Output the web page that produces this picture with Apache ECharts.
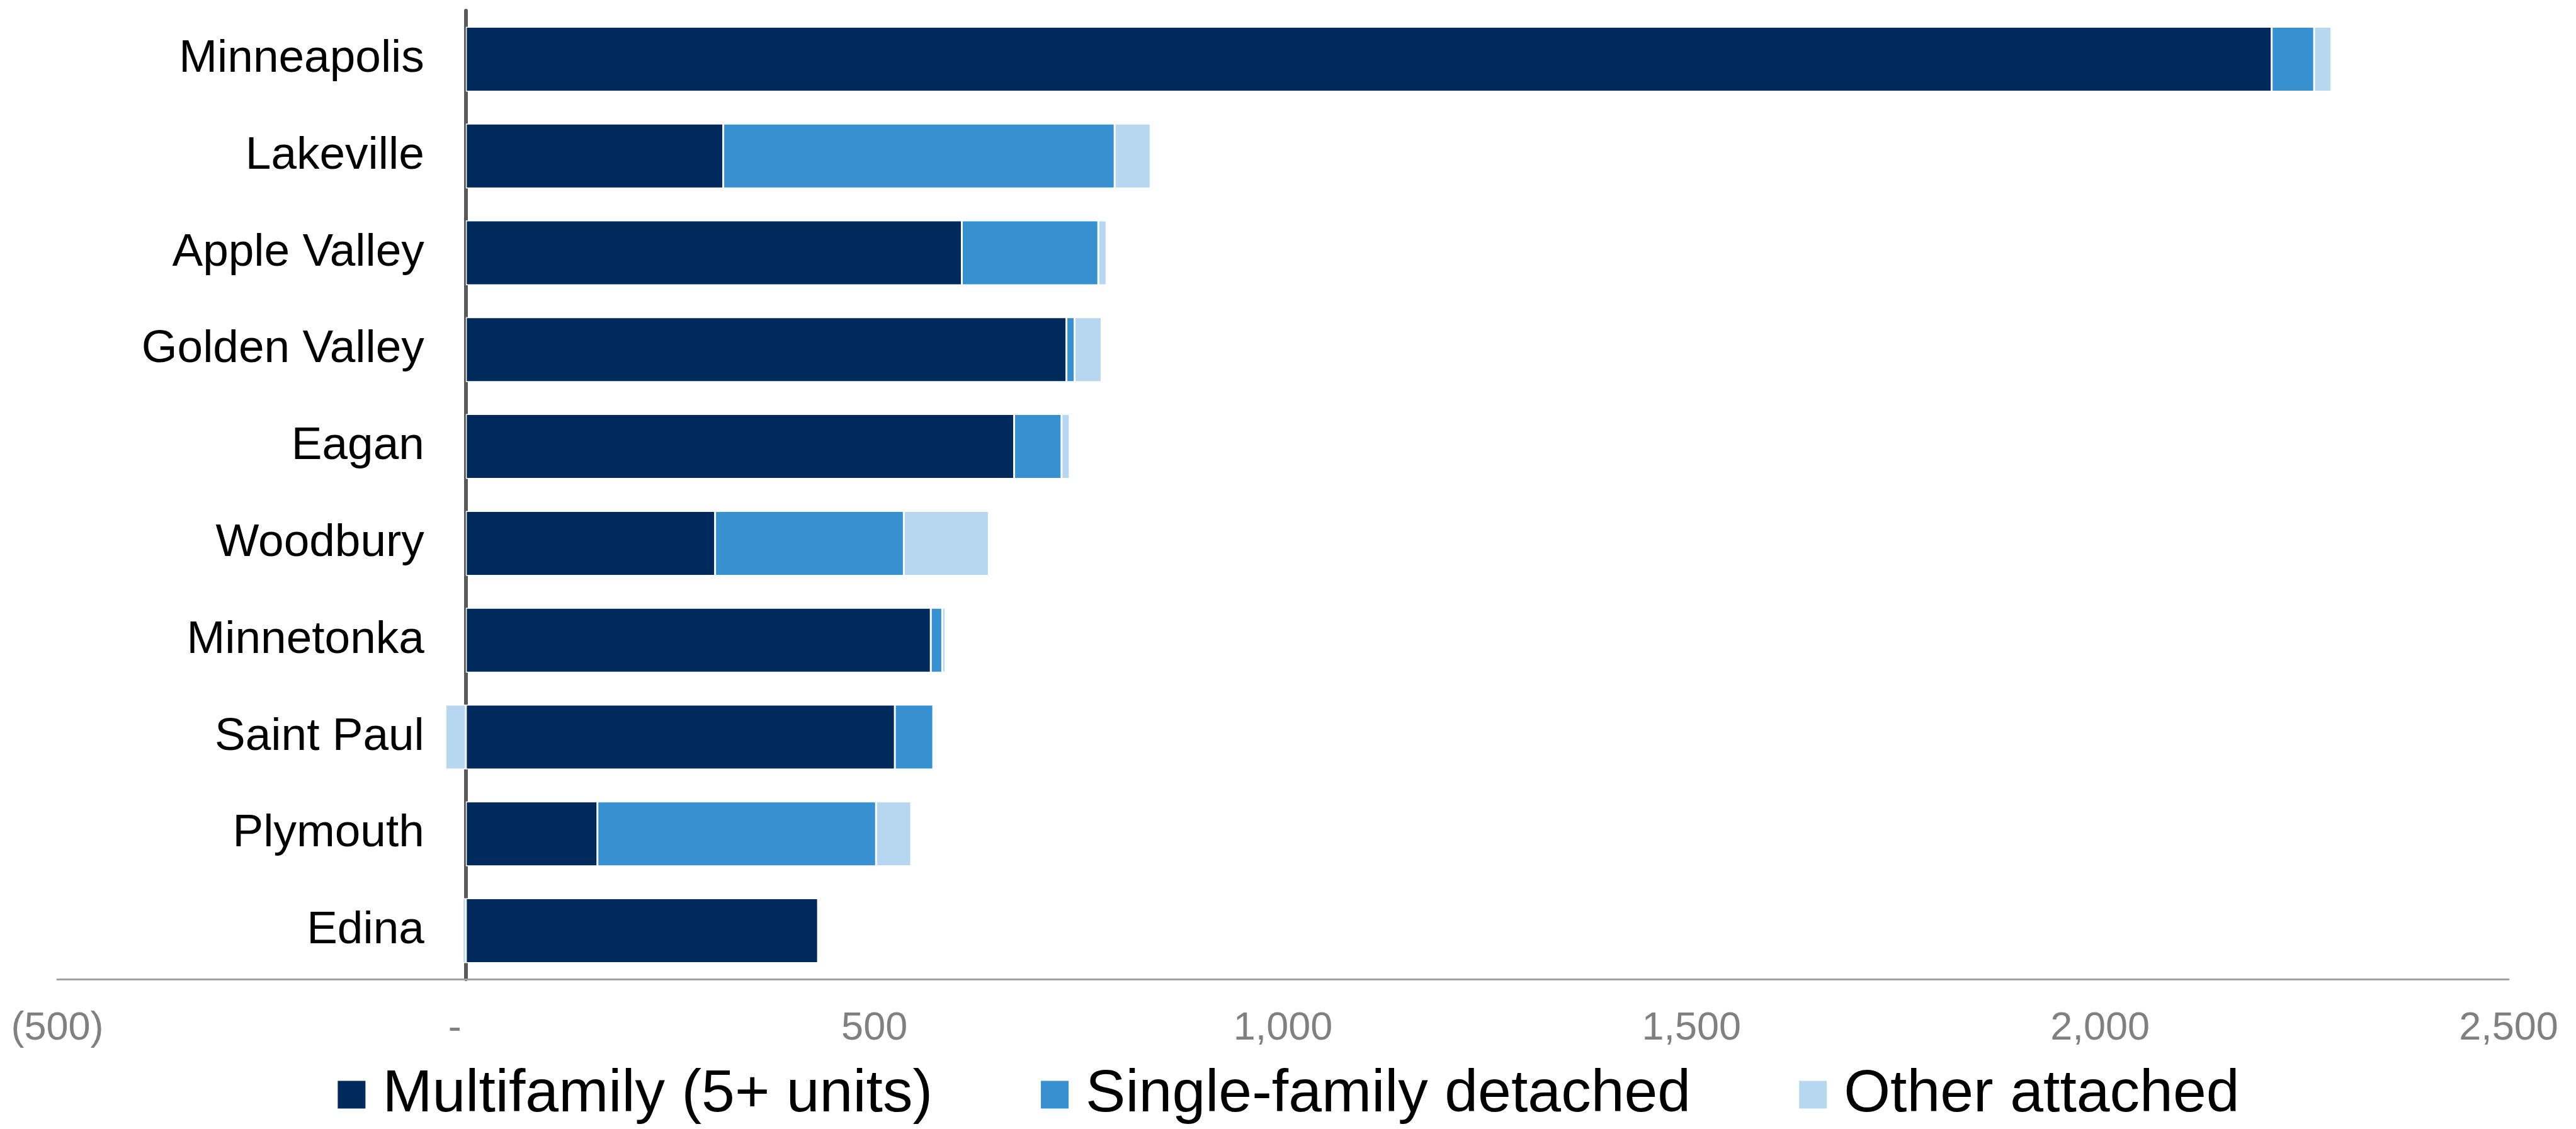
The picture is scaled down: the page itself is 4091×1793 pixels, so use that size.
<!DOCTYPE html>
<html>
<head>
<meta charset="utf-8">
<title>Housing units by city and type</title>
<script src="https://cdn.jsdelivr.net/npm/echarts@6/dist/echarts.min.js"></script>
<style>
  html, body { margin: 0; padding: 0; background: #ffffff; }
  #chart { width: 4091px; height: 1793px; }
</style>
</head>
<body>
<div id="chart"></div>
<script>
// Cities, listed top to bottom
const cities = ['Minneapolis', 'Lakeville', 'Apple Valley', 'Golden Valley', 'Eagan',
                'Woodbury', 'Minnetonka', 'Saint Paul', 'Plymouth', 'Edina'];

// Net new housing units by structure type
const multifamily   = [2210, 315, 607, 735, 671, 305, 569, 525, 161, 431];
const singleFamily  = [52, 479, 167, 10, 58, 231, 14, 47, 341, 2];
const otherAttached = [21, 44, 10, 33, 10, 104, 4, -25, 43, -4];

const seriesNames = ['Multifamily (5+ units)', 'Single-family detached', 'Other attached'];
const seriesColors = ['#002A5C', '#3790CF', '#B7D6F0'];

// Value axis range and step
const axisMin = -500;
const axisMax = 2500;
const axisStep = 500;

const FONT = "'Liberation Sans', Arial, Helvetica, sans-serif";

const GRID_LEFT = 91;
const GRID_RIGHT = 107;

function tickLabel(v) {
  if (v === 0) return '-  ';
  const s = Math.abs(v).toLocaleString('en-US');
  return v < 0 ? '(' + s + ')' : s;
}

const chartEl = document.getElementById('chart');
const chart = echarts.init(chartEl, null, { renderer: 'canvas' });

// City names sit just left of the zero line, so offset them from the grid edge
const plotWidth = 4091 - GRID_LEFT - GRID_RIGHT;
const zeroOffset = plotWidth * (0 - axisMin) / (axisMax - axisMin);
const cityLabelGap = 66;

const seriesData = [multifamily, singleFamily, otherAttached];

chart.setOption({
  animation: false,
  backgroundColor: '#ffffff',
  grid: { left: GRID_LEFT, right: GRID_RIGHT, top: 17, bottom: 238, containLabel: false, outerBoundsMode: 'none' },
  legend: {
    data: seriesNames,
    left: 'center',
    top: 1686,
    icon: 'rect',
    itemWidth: 46,
    itemHeight: 46,
    itemGap: 170,
    textStyle: { fontFamily: FONT, fontSize: 95, color: '#000000', padding: [0, 0, 0, 21] }
  },
  xAxis: {
    type: 'value',
    min: axisMin,
    max: axisMax,
    interval: axisStep,
    position: 'bottom',
    axisLine: { show: true, onZero: false, lineStyle: { color: '#A0A0A0', width: 3 } },
    axisTick: { show: false },
    splitLine: { show: false },
    axisLabel: {
      formatter: tickLabel,
      fontFamily: FONT,
      fontSize: 63,
      color: '#808080',
      margin: 47
    }
  },
  yAxis: {
    type: 'category',
    data: cities,
    inverse: true,
    axisLine: { show: true, onZero: true, lineStyle: { color: '#595959', width: 6 } },
    axisTick: { show: false },
    splitLine: { show: false },
    axisLabel: {
      fontFamily: FONT,
      fontSize: 73,
      color: '#000000',
      align: 'right',
      margin: cityLabelGap - zeroOffset
    }
  },
  series: seriesNames.map((name, i) => ({
    name: name,
    type: 'bar',
    stack: 'units',
    barWidth: '67%',
    data: seriesData[i],
    itemStyle: { color: seriesColors[i], borderColor: '#ffffff', borderWidth: 1.5 },
    z: 1
  }))
});
</script>
</body>
</html>
